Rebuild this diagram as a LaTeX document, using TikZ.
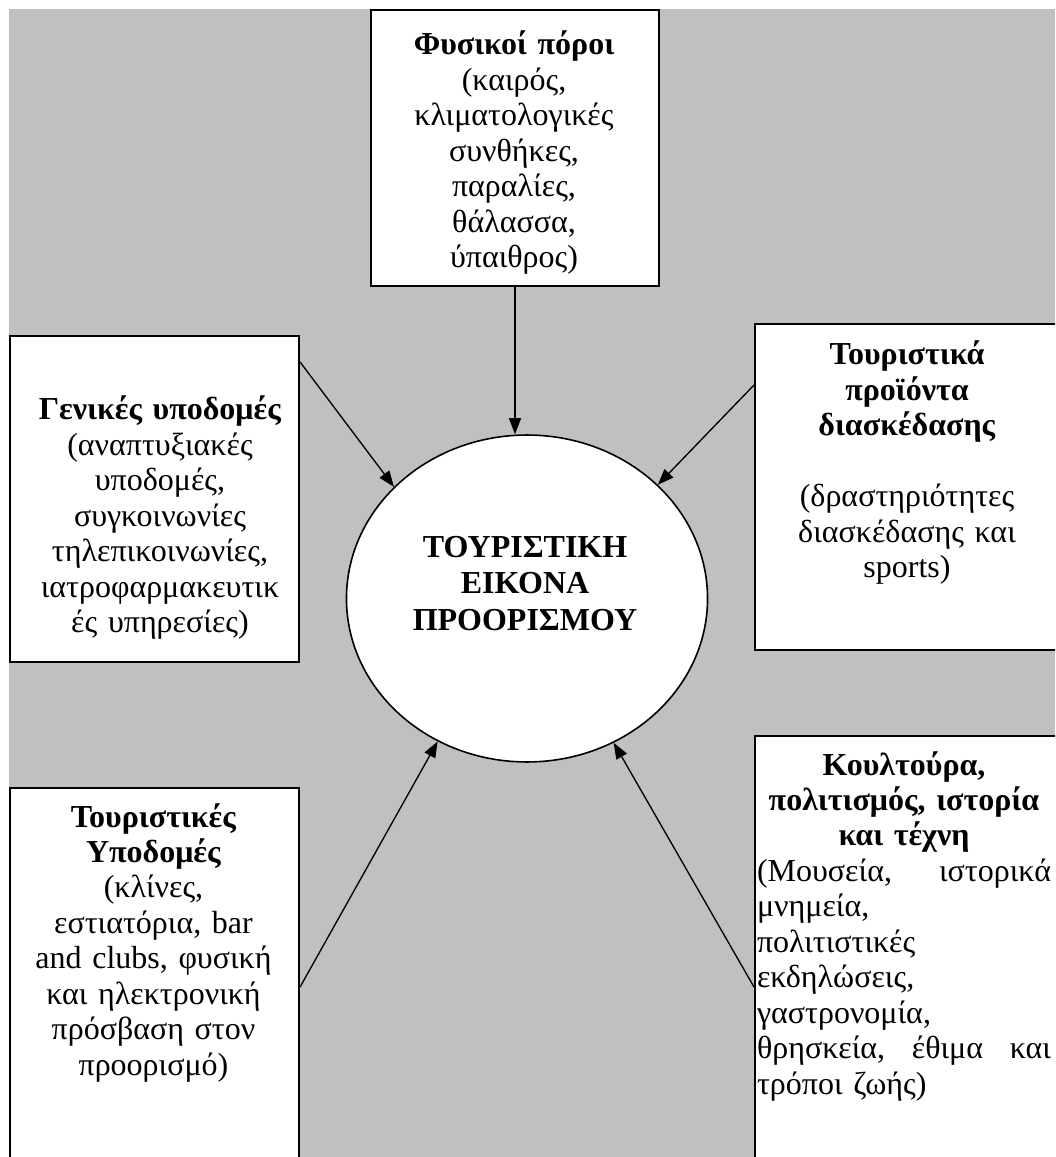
\documentclass[tikz,border=0pt]{standalone}
\usepackage{fontspec}
\setmainfont{Liberation Serif}
\usetikzlibrary{shapes.geometric,arrows.meta,calc}
\definecolor{bggray}{RGB}{192,192,192}

\begin{document}
\begin{tikzpicture}[x=0.375pt,y=-0.375pt,
    box/.style={draw,line width=0.75pt,fill=white,rectangle,inner sep=0pt,anchor=north west},
    txt/.style={inner sep=0pt,anchor=base,align=center,font=\fontsize{12}{13.3}\selectfont},
    arr/.style={-{Triangle[length=6pt,width=4.5pt]},line width=0.5pt}]
    % page and grey backdrop
    \useasboundingbox (0,0) rectangle (1055,1157);
    \clip (0,0) rectangle (1055,1157);
    \fill[bggray] (9,9) rectangle (1055,1157);
    % central image
    \node[ellipse,draw,line width=0.6pt,fill=white,minimum width=135.4pt,minimum height=122.6pt,inner sep=0pt] (kentro) at (527,598.5) {};
    \node[txt,text width=100pt,font=\fontsize{12}{13.7}\selectfont\bfseries] (kentro-t) at (525,557) {ΤΟΥΡΙΣΤΙΚΗ\\ ΕΙΚΟΝΑ\\ ΠΡΟΟΡΙΣΜΟΥ};
    % the five factors round it
    \node[box,minimum width=108pt,minimum height=103.5pt] (fysikoi) at (370,9) {};
    \node[txt,text width=108pt] (fysikoi-t) at (514,55) {\textbf{Φυσικοί πόροι}\\ (καιρός,\\ κλιματολογικές\\ συνθήκες,\\ παραλίες,\\ θάλασσα,\\ ύπαιθρος)};
    \node[box,minimum width=108.4pt,minimum height=122.25pt] (genikes) at (9,335) {};
    \node[txt,text width=108pt] (genikes-t) at (160,420) {\textbf{Γενικές υποδομές}\\ (αναπτυξιακές\\ υποδομές,\\ συγκοινωνίες\\ τηλεπικοινωνίες,\\ ιατροφαρμακευτικ\\ ές υπηρεσίες)};
    \node[box,minimum width=114.75pt,minimum height=122.25pt] (proionta) at (754,323) {};
    \node[txt,text width=114pt] (proionta-t) at (907,365) {\textbf{Τουριστικά}\\ \textbf{προϊόντα}\\ \textbf{διασκέδασης}\\ ~\\ (δραστηριότητες\\ διασκέδασης και\\ sports)};
    \node[box,minimum width=108.4pt,minimum height=150pt] (ypodomes) at (9,787) {};
    \node[txt,text width=108pt] (ypodomes-t) at (153.5,827) {\textbf{Τουριστικές}\\ \textbf{Υποδομές}\\ (κλίνες,\\ εστιατόρια, bar\\ and clubs, φυσική\\ και ηλεκτρονική\\ πρόσβαση στον\\ προορισμό)};
    \node[box,minimum width=114.75pt,minimum height=168.75pt] (koultoura) at (754,735) {};
    \node[txt,align=left,text width=110.25pt] (koultoura-t) at (904,775) {{\centering\bfseries Κουλτούρα,\\ πολιτισμός, ιστορία\\ και τέχνη\par}
      (Μουσεία,\hfill ιστορικά\\ μνημεία,\\ πολιτιστικές\\ εκδηλώσεις,\\ γαστρονομία,\\ θρησκεία,\hfill έθιμα\hfill και\\ τρόποι ζωής)};
    % arrows into the circle
    \draw[arr] (fysikoi.south) -- (fysikoi.south |- kentro.north);
    \draw[arr] ($(genikes.north east)+(0,27)$) -- (kentro.140);
    \draw[arr] ($(proionta.north west)+(0,62)$) -- (kentro.41);
    \draw[arr] ($(ypodomes.north east)+(0,200)$) -- (kentro.238);
    \draw[arr] ($(koultoura.north west)+(0,252)$) -- (kentro.301);
\end{tikzpicture}
\end{document}
